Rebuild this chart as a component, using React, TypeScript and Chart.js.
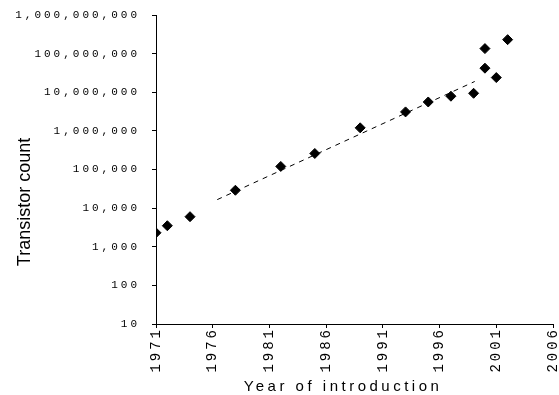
import React, { useEffect, useRef } from "react";
import { Chart, registerables } from "chart.js";

Chart.register(...registerables);

const years = [1971, 1972, 1974, 1978, 1982, 1985, 1989, 1993, 1995, 1997, 1999, 2000, 2000, 2001, 2002];
const transistors = [2300, 3500, 6000, 29000, 120000, 260000, 1200000, 3100000, 5600000, 7900000, 9400000, 42000000, 135000000, 24000000, 230000000];

const trendYears = [1976.4, 1999.1];
const trendValues = [16600, 19000000];

const yTickValues = [10, 100, 1000, 10000, 100000, 1000000, 10000000, 100000000, 1000000000];
const xTickYears = [1971, 1976, 1981, 1986, 1991, 1996, 2001, 2006];

const xTitle = "Year of introduction";
const yTitle = "Transistor count";

const LS = "3px";

const spacingPlugin = {
  id: "spacing",
  beforeUpdate(chart: any) { chart.ctx.letterSpacing = LS; },
  beforeLayout(chart: any) { chart.ctx.letterSpacing = LS; },
  beforeDraw(chart: any) { chart.ctx.letterSpacing = LS; },
  resize(chart: any) { chart.ctx.letterSpacing = LS; },
};

const titlePlugin = {
  id: "titles",
  afterDraw(chart: any) {
    const ctx = chart.ctx;
    ctx.save();
    ctx.fillStyle = "#000";
    ctx.letterSpacing = "3.5px";
    ctx.font = '15px "Liberation Sans", Arial, sans-serif';
    ctx.textAlign = "center";
    ctx.textBaseline = "alphabetic";
    ctx.fillText(xTitle, 343, 391);
    ctx.letterSpacing = "0px";
    ctx.font = '18px "Liberation Sans", Arial, sans-serif';
    ctx.translate(30, 202);
    ctx.rotate(-Math.PI / 2);
    ctx.fillText(yTitle, 0, 0);
    ctx.restore();
  },
};

export default function App() {
  const ref = useRef<HTMLCanvasElement | null>(null);
  useEffect(() => {
    if (!ref.current) return;
    const chart = new Chart(ref.current, {
      type: "scatter",
      data: {
        datasets: [
          {
            label: "Transistors",
            data: years.map((y, i) => ({ x: y, y: transistors[i] })),
            backgroundColor: "#000",
            borderColor: "#000",
            pointStyle: "rectRot",
            pointRadius: 5,
            showLine: false,
          },
          {
            label: "Trend",
            data: trendYears.map((y, i) => ({ x: y, y: trendValues[i] })),
            showLine: true,
            borderColor: "#000",
            borderWidth: 1,
            borderDash: [5, 5],
            pointRadius: 0,
            fill: false,
          },
        ],
      },
      options: {
        animation: false,
        responsive: true,
        maintainAspectRatio: false,
        layout: { padding: { left: 0, top: 15, right: 6, bottom: 0 } },
        plugins: { legend: { display: false }, tooltip: { enabled: false } },
        elements: { point: { hitRadius: 0 } },
        scales: {
          x: {
            type: "linear",
            min: 1971,
            max: 2006,
            afterBuildTicks: (scale: any) => {
              scale.ticks = xTickYears.map((v) => ({ value: v }));
            },
            afterFit: (scale: any) => {
              scale.height = 71;
              scale.paddingLeft = 0;
              scale.paddingRight = 0;
            },
            ticks: {
              maxRotation: 90,
              minRotation: 90,
              padding: -1,
              color: "#000",
              font: { family: '"Liberation Mono", monospace', size: 14 },
              callback: (v: any) => String(v),
            },
            grid: { display: true, drawOnChartArea: false, drawTicks: true, tickLength: 4, color: "#000" },
            border: { display: true, color: "#000", width: 1 },
          },
          y: {
            type: "logarithmic",
            min: 10,
            max: 1000000000,
            afterBuildTicks: (scale: any) => {
              scale.ticks = yTickValues.map((v) => ({ value: v }));
            },
            afterFit: (scale: any) => {
              scale.width = 156;
              scale.paddingTop = 0;
              scale.paddingBottom = 0;
            },
            ticks: {
              padding: 12,
              color: "#000",
              font: { family: '"Liberation Mono", monospace', size: 11 },
              callback: (v: any) => Number(v).toLocaleString("en-US"),
            },
            grid: { display: true, drawOnChartArea: false, drawTicks: true, tickLength: 4, color: "#000" },
            border: { display: true, color: "#000", width: 1 },
          },
        },
      },
      plugins: [spacingPlugin, titlePlugin],
    });
    return () => chart.destroy();
  }, []);
  return (
    <div style={{ position: "fixed", left: 0, top: 0, width: 559, height: 395, background: "#fff" }}>
      <canvas ref={ref} />
    </div>
  );
}
